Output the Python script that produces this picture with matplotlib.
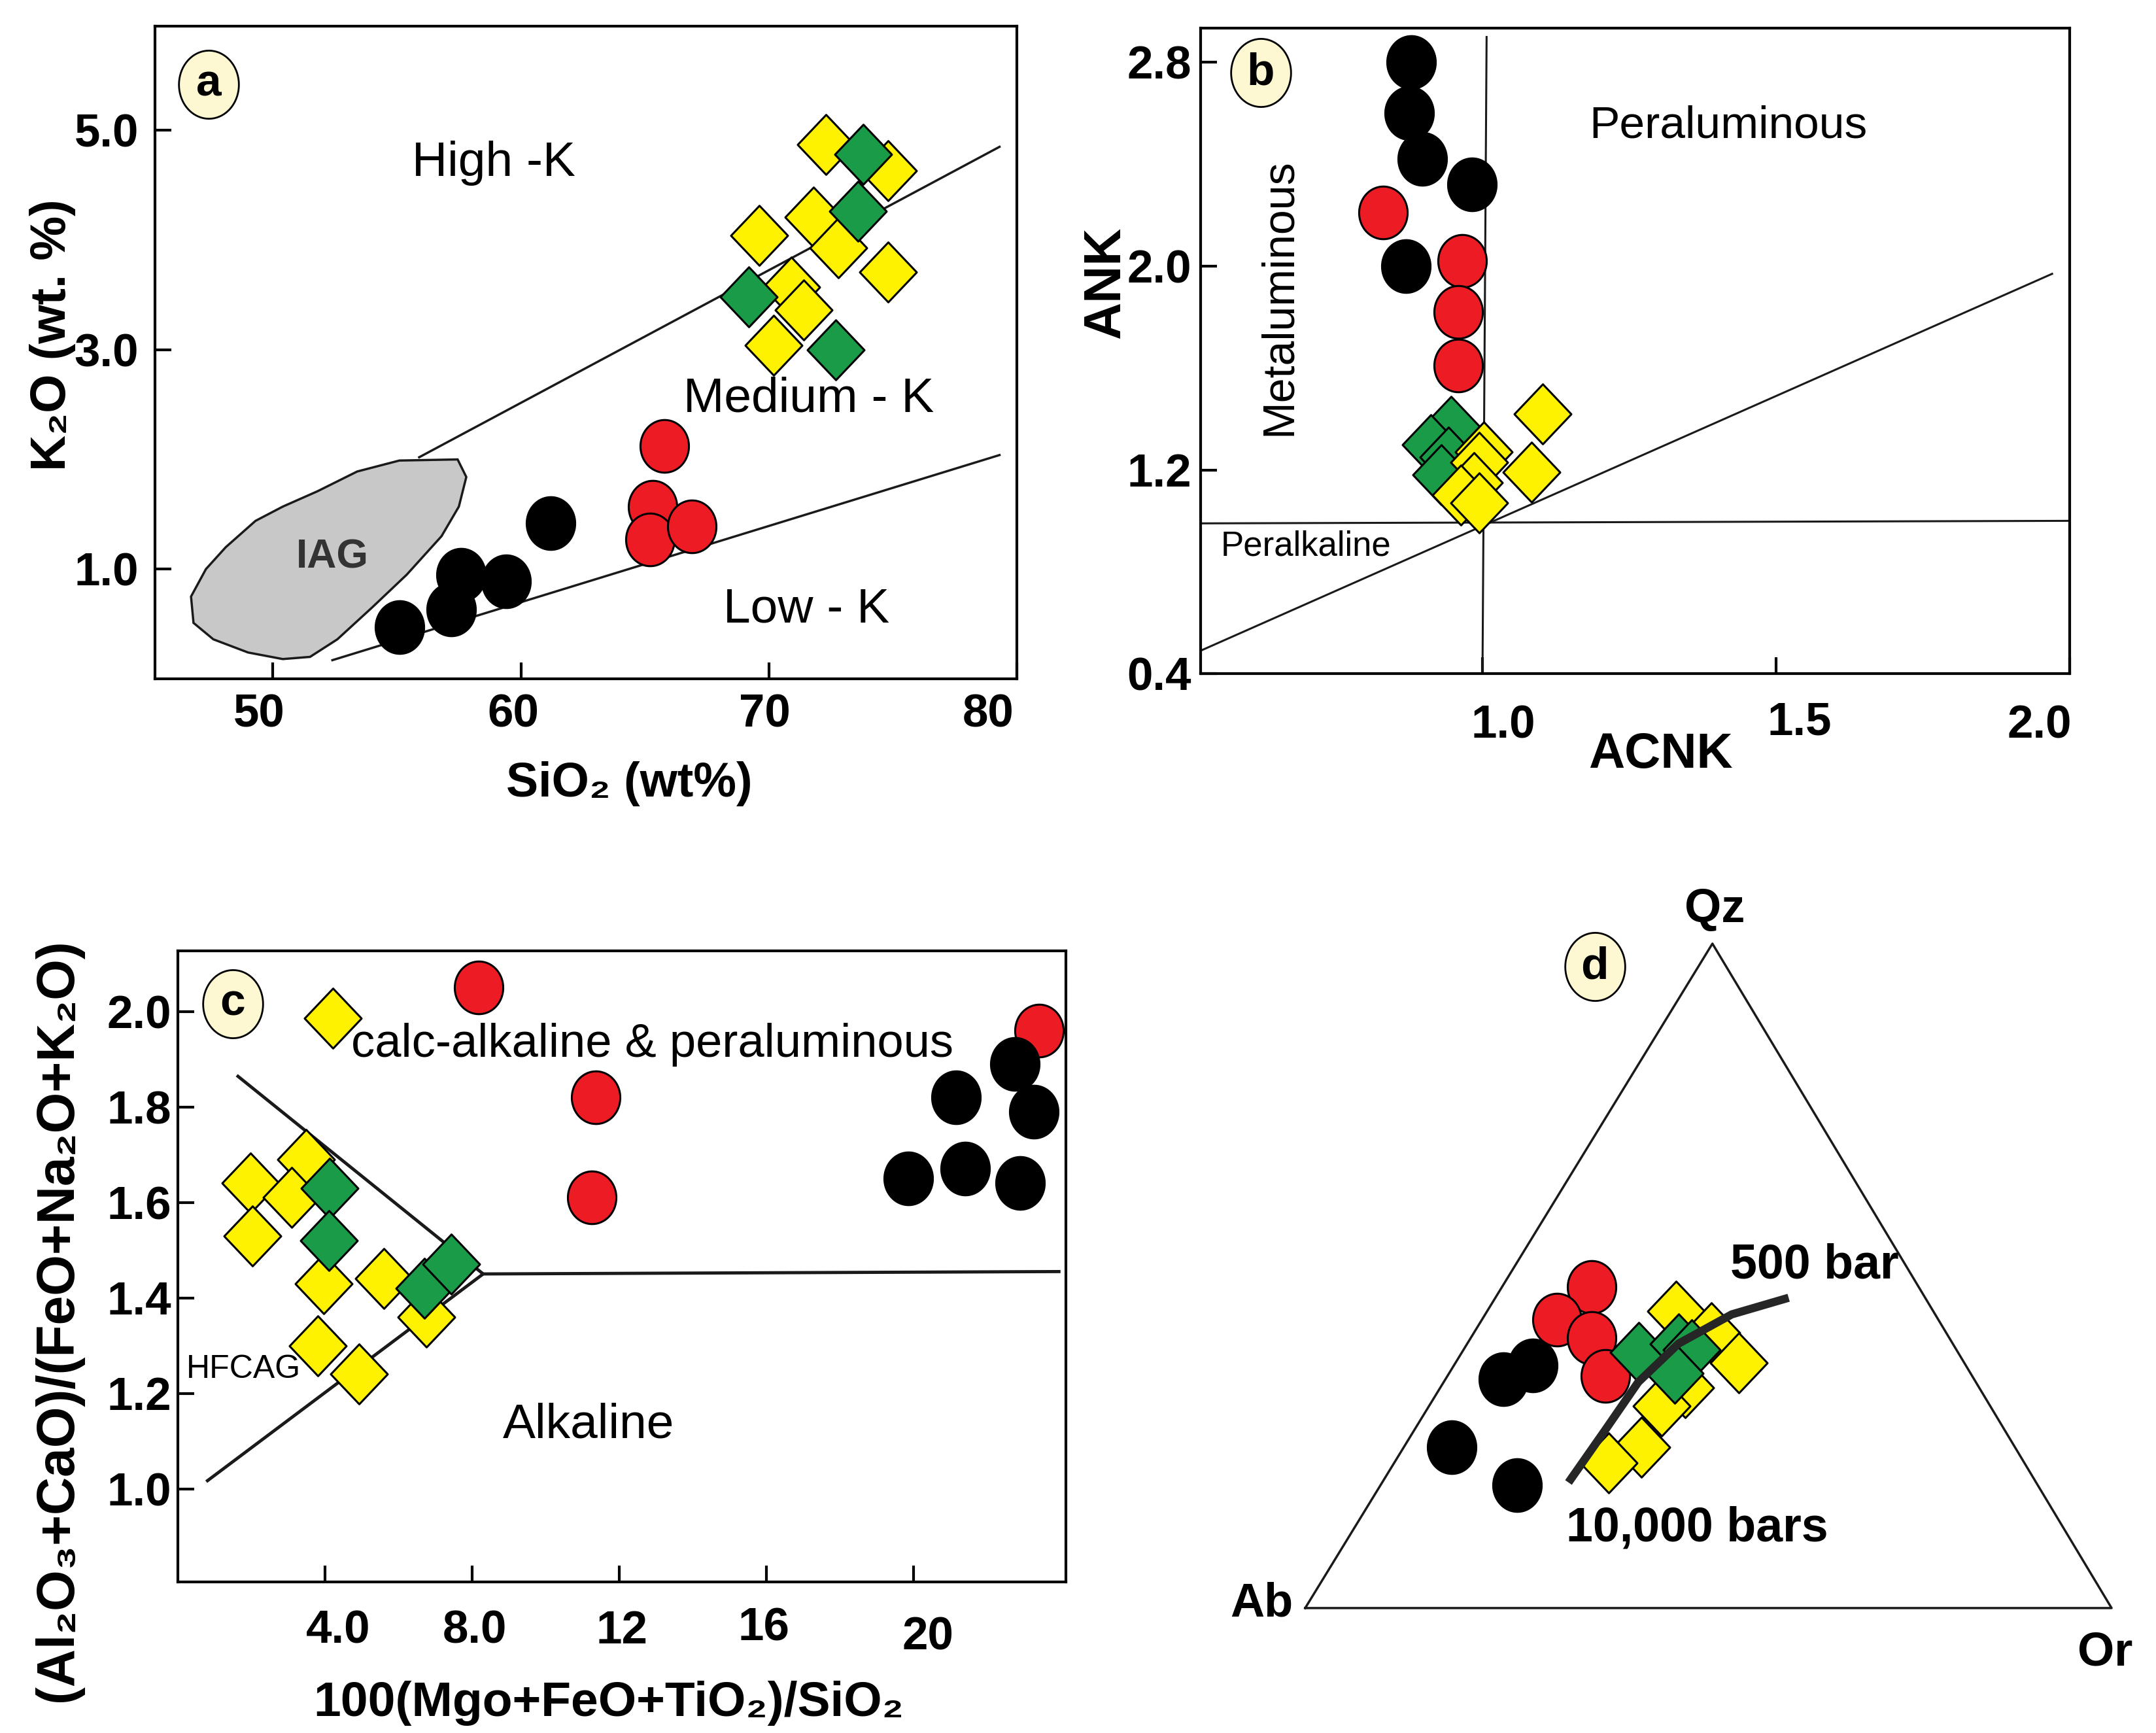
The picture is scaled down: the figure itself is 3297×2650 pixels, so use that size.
import numpy as np
import matplotlib
matplotlib.use("Agg")
import matplotlib.pyplot as plt
from matplotlib.path import Path
from matplotlib.transforms import ScaledTranslation

plt.rcParams['font.family'] = ['Liberation Sans', 'DejaVu Sans']

RED = '#ed1c24'
YELLOW = '#fff200'
GREEN = '#1a9b48'
BLACK = '#000000'
TAG_FILL = '#fdf7d2'

# ---- (a) SiO2 vs K2O ----
a_black_sio2 = [55.1, 57.2, 57.6, 59.4, 61.2]
a_black_k2o = [0.47, 0.63, 0.95, 0.89, 1.42]
a_red_sio2 = [65.8, 65.3, 65.2, 66.9]
a_red_k2o = [2.12, 1.57, 1.27, 1.39]
a_yellow_sio2 = [72.3, 74.8, 71.8, 69.6, 72.8, 74.8, 70.9, 71.4, 70.2]
a_yellow_k2o = [4.87, 4.63, 4.21, 4.04, 3.93, 3.71, 3.57, 3.36, 3.04]
a_green_sio2 = [73.8, 73.6, 69.2, 72.7]
a_green_k2o = [4.78, 4.26, 3.48, 3.00]
# field boundaries
a_upper_sio2 = [55.9, 79.3]
a_upper_k2o = [2.02, 4.85]
a_lower_sio2 = [52.4, 79.3]
a_lower_k2o = [0.17, 2.04]
iag_sio2 = [55.1, 57.45, 57.8, 57.5, 56.8, 55.4, 54.0, 52.6, 51.5, 50.4, 49.0,
            47.6, 46.8, 46.7, 47.3, 48.1, 49.3, 50.4, 51.8, 53.4]
iag_k2o = [1.99, 2.00, 1.84, 1.57, 1.30, 0.95, 0.65, 0.36, 0.20, 0.18, 0.24,
           0.36, 0.51, 0.75, 1.00, 1.20, 1.44, 1.57, 1.71, 1.89]

# ---- (b) ACNK vs ANK ----
b_black_acnk = [0.879, 0.875, 0.898, 0.982, 0.870]
b_black_ank = [2.80, 2.60, 2.42, 2.32, 2.00]
b_red_acnk = [0.831, 0.965, 0.959, 0.959]
b_red_ank = [2.21, 2.02, 1.82, 1.61]
b_green_acnk = [0.947, 0.912, 0.942, 0.930]
b_green_ank = [1.37, 1.30, 1.25, 1.18]
b_yellow_acnk = [1.102, 1.084, 1.002, 0.994, 0.986, 0.963, 0.994]
b_yellow_ank = [1.42, 1.19, 1.27, 1.23, 1.15, 1.10, 1.07]

# ---- (c) 100(MgO+FeO+TiO2)/SiO2 vs (Al2O3+CaO)/(FeO+Na2O+K2O) ----
c_red_x = [8.17, 11.36, 11.25, 23.42]
c_red_y = [2.05, 1.82, 1.61, 1.96]
c_black_x = [22.76, 21.16, 23.28, 19.86, 21.41, 22.90]
c_black_y = [1.89, 1.82, 1.79, 1.65, 1.67, 1.64]
c_yellow_x = [4.21, 1.97, 3.48, 3.09, 2.03, 3.96, 5.60, 6.76, 3.81, 4.93]
c_yellow_y = [1.985, 1.64, 1.69, 1.61, 1.53, 1.43, 1.44, 1.36, 1.30, 1.24]
c_green_x = [4.12, 4.10, 6.70, 7.44]
c_green_y = [1.63, 1.52, 1.42, 1.47]
c_upper_x = [1.6, 8.3]
c_upper_y = [1.866, 1.45]
c_lower_x = [0.77, 8.3]
c_lower_y = [1.015, 1.45]
c_flat_x = [8.3, 24.0]
c_flat_y = [1.45, 1.455]

# ---- (d) Qz-Ab-Or ----
d_black_qz = [0.242, 0.185, 0.344, 0.365]
d_black_ab = [0.697, 0.645, 0.582, 0.535]
d_black_or = [0.061, 0.170, 0.074, 0.100]
d_red_qz = [0.483, 0.434, 0.406, 0.349]
d_red_ab = [0.403, 0.471, 0.442, 0.453]
d_red_or = [0.114, 0.095, 0.152, 0.198]
d_yellow_qz = [0.447, 0.414, 0.369, 0.332, 0.304, 0.242, 0.218]
d_yellow_ab = [0.317, 0.289, 0.278, 0.363, 0.406, 0.462, 0.515]
d_yellow_or = [0.236, 0.297, 0.353, 0.305, 0.290, 0.296, 0.267]
d_green_qz = [0.385, 0.398, 0.389, 0.353]
d_green_ab = [0.394, 0.338, 0.326, 0.365]
d_green_or = [0.221, 0.264, 0.285, 0.282]
d_curve_qz = [0.189, 0.267, 0.340, 0.398, 0.442, 0.467]
d_curve_ab = [0.579, 0.495, 0.417, 0.338, 0.250, 0.167]
d_curve_or = [0.232, 0.238, 0.243, 0.264, 0.308, 0.366]

# marker shapes
t = np.linspace(0, 2 * np.pi, 73)
OVAL = Path(np.column_stack([0.92 * np.cos(t), np.sin(t)]))
DIAMOND = Path([(0, 1), (0.95, 0), (0, -1), (-0.95, 0), (0, 1)], closed=True)
TAG = Path(np.column_stack([0.88 * np.cos(t), np.sin(t)]))


def circles(ax, x, y, color):
    ax.plot(x, y, ls='none', marker=OVAL, ms=58, mfc=color, mec='black',
            mew=2.2, zorder=5)


def diamonds(ax, x, y, color):
    ax.plot(x, y, ls='none', marker=DIAMOND, ms=66, mfc=color, mec='black',
            mew=2.2, zorder=5)


def tag(ax, x, y, letter, transform):
    ax.plot([x], [y], marker=TAG, ms=75, mfc=TAG_FILL, mec='black', mew=2,
            transform=transform, clip_on=False, zorder=8)
    ax.text(x, y, letter, transform=transform, ha='center', va='center',
            fontsize=50, fontweight='bold', zorder=9)


def frame(ax, xpad, ypad):
    for s in ax.spines.values():
        s.set_linewidth(3)
    ax.tick_params(direction='in', length=18, width=3, labelsize=51)
    ax.tick_params(axis='x', pad=xpad)
    ax.tick_params(axis='y', pad=ypad)
    for lab in ax.get_xticklabels() + ax.get_yticklabels():
        lab.set_fontweight('bold')


def nudge(fig, labels, shifts):
    # shift tick labels by (dx, dy) pixels, as in the drawing
    for lab, (dx, dy) in zip(labels, shifts):
        lab.set_transform(lab.get_transform() +
                          ScaledTranslation(dx / 100, dy / 100,
                                            fig.dpi_scale_trans))


fig = plt.figure(figsize=(32.98, 26.5), dpi=100)

# ---------------- panel a ----------------
ax = fig.add_axes([0.0719, 0.6083, 0.3996, 0.3766])
ax.set_xlim(45.25, 80.0)
ax.set_ylim(0.0, 5.95)
ax.set_xticks([50, 60, 70, 80], ['50', '60', '70', '80'])
ax.set_yticks([1, 3, 5], ['1.0', '3.0', '5.0'])
frame(ax, 16, 18)
nudge(fig, ax.get_xticklabels(), [(-21, 0), (-12, 0), (-6, 0), (-44, 0)])
ax.plot(a_upper_sio2, a_upper_k2o, color='#1a1a1a', lw=2.5, zorder=2)
ax.plot(a_lower_sio2, a_lower_k2o, color='#1a1a1a', lw=2.5, zorder=2)
ax.fill(iag_sio2, iag_k2o, facecolor='#c8c8c8', edgecolor='#1a1a1a', lw=2.5,
        zorder=3)
ax.text(52.4, 1.11, 'IAG', fontsize=45, fontweight='bold', color='#333333',
        ha='center', va='center', zorder=4)
circles(ax, a_black_sio2, a_black_k2o, BLACK)
circles(ax, a_red_sio2, a_red_k2o, RED)
diamonds(ax, a_yellow_sio2, a_yellow_k2o, YELLOW)
diamonds(ax, a_green_sio2, a_green_k2o, GREEN)
ax.text(58.9, 4.70, 'High -K', fontsize=54, ha='center', va='center')
ax.text(71.6, 2.55, 'Medium - K', fontsize=54, ha='center', va='center')
ax.text(71.5, 0.63, 'Low - K', fontsize=54, ha='center', va='center')
ax.set_xlabel('SiO₂ (wt%)', fontsize=53, fontweight='bold', va='center')
ax.xaxis.set_label_coords(0.55, -0.161)
ax.set_ylabel('K₂O (wt. %)', fontsize=55, fontweight='bold', va='center')
ax.yaxis.set_label_coords(-0.119, 0.527)
tag(ax, 0.0625, 0.911, 'a', ax.transAxes)

# ---------------- panel b ----------------
ax = fig.add_axes([0.5567, 0.6113, 0.4030, 0.3725])
ax.set_xlim(0.52, 2.0)
ax.set_ylim(0.4, 2.935)
ax.set_xticks([1.0, 1.5, 2.0], ['1.0', '1.5', '2.0'])
ax.set_yticks([0.4, 1.2, 2.0, 2.8], ['0.4', '1.2', '2.0', '2.8'])
frame(ax, 34, 10)
nudge(fig, ax.get_xticklabels(), [(32, 0), (36, 5), (-46, 0)])
ax.plot([1.007, 1.0], [2.90, 0.4], color='#1a1a1a', lw=2.2, zorder=2)
ax.plot([0.52, 2.0], [0.99, 1.0], color='#1a1a1a', lw=2.2, zorder=2)
ax.plot([0.52, 1.97], [0.49, 1.97], color='#1a1a1a', lw=2.2, zorder=2)
circles(ax, b_black_acnk, b_black_ank, BLACK)
circles(ax, b_red_acnk, b_red_ank, RED)
diamonds(ax, b_green_acnk, b_green_ank, GREEN)
diamonds(ax, b_yellow_acnk, b_yellow_ank, YELLOW)
ax.text(1.418, 2.55, 'Peraluminous', fontsize=50, ha='center', va='center')
ax.text(0.653, 1.88, 'Metaluminous', fontsize=49, rotation=90,
        ha='center', va='center')
ax.text(0.699, 0.90, 'Peralkaline', fontsize=38, ha='center', va='center')
ax.set_xlabel('ACNK', fontsize=55, fontweight='bold', va='center')
ax.xaxis.set_label_coords(0.529, -0.126)
ax.set_ylabel('ANK', fontsize=57, fontweight='bold', va='center')
ax.yaxis.set_label_coords(-0.109, 0.605)
tag(ax, 0.069, 0.931, 'b', ax.transAxes)

# ---------------- panel c ----------------
ax = fig.add_axes([0.0825, 0.0872, 0.4118, 0.3642])
ax.set_xlim(0, 24.15)
ax.set_ylim(0.805, 2.127)
ax.set_xticks([4, 8, 12, 16, 20], ['4.0', '8.0', '12', '16', '20'])
ax.set_yticks([1.0, 1.2, 1.4, 1.6, 1.8, 2.0],
              ['1.0', '1.2', '1.4', '1.6', '1.8', '2.0'])
frame(ax, 31, 7)
nudge(fig, ax.get_xticklabels(),
      [(20, 0), (4, 0), (4, 0), (-4, 4), (22, -10)])
for lx, ly in [(c_upper_x, c_upper_y), (c_lower_x, c_lower_y),
               (c_flat_x, c_flat_y)]:
    ax.plot(lx, ly, color='#1a1a1a', lw=3.5, zorder=2, solid_capstyle='butt')
circles(ax, c_red_x, c_red_y, RED)
circles(ax, c_black_x, c_black_y, BLACK)
diamonds(ax, c_yellow_x, c_yellow_y, YELLOW)
diamonds(ax, c_green_x, c_green_y, GREEN)
ax.text(12.9, 1.93, 'calc-alkaline & peraluminous', fontsize=52,
        ha='center', va='center', zorder=6)
ax.text(11.17, 1.134, 'Alkaline', fontsize=54, ha='center', va='center')
ax.text(1.78, 1.25, 'HFCAG', fontsize=36, ha='center', va='center')
ax.set_xlabel('100(Mgo+FeO+TiO₂)/SiO₂', fontsize=54, fontweight='bold',
              va='center')
ax.xaxis.set_label_coords(0.485, -0.192)
ax.set_ylabel('(Al₂O₃+CaO)/(FeO+Na₂O+K₂O)', fontsize=58, fontweight='bold',
              va='center')
ax.yaxis.set_label_coords(-0.135, 0.415)
tag(ax, 0.0616, 0.916, 'c', ax.transAxes)

# ---------------- panel d (ternary) ----------------
ax = fig.add_axes([0.6052, 0.0721, 0.3739, 0.3834])
ax.set_xlim(0, 1)
ax.set_ylim(0, 1)
ax.axis('off')


def tern(qz, ab, or_):
    qz, ab, or_ = np.asarray(qz), np.asarray(ab), np.asarray(or_)
    s = qz + ab + or_
    return (or_ + 0.5 * qz) / s, qz / s


ax.plot([0, 1, 0.505, 0], [0, 0, 1, 0], color='#1a1a1a', lw=2.5,
        clip_on=False)
x, y = tern(d_black_qz, d_black_ab, d_black_or)
circles(ax, x, y, BLACK)
x, y = tern(d_red_qz, d_red_ab, d_red_or)
circles(ax, x, y, RED)
x, y = tern(d_yellow_qz, d_yellow_ab, d_yellow_or)
diamonds(ax, x, y, YELLOW)
x, y = tern(d_green_qz, d_green_ab, d_green_or)
diamonds(ax, x, y, GREEN)
x, y = tern(d_curve_qz, d_curve_ab, d_curve_or)
ax.plot(x, y, color='#262626', lw=9, zorder=7, solid_capstyle='butt')
ax.text(0.632, 0.516, '500 bar', fontsize=53, fontweight='bold',
        ha='center', va='center')
ax.text(0.486, 0.12, '10,000 bars', fontsize=53, fontweight='bold',
        ha='center', va='center')
ax.text(0.508, 1.051, 'Qz', fontsize=52, fontweight='bold', ha='center',
        va='center', clip_on=False)
ax.text(-0.054, 0.006, 'Ab', fontsize=52, fontweight='bold', ha='center',
        va='center', clip_on=False)
ax.text(0.992, -0.067, 'Or', fontsize=52, fontweight='bold', ha='center',
        va='center', clip_on=False)
tag(ax, 0.359, 0.965, 'd', ax.transData)

fig.savefig('out.png', dpi=100)
